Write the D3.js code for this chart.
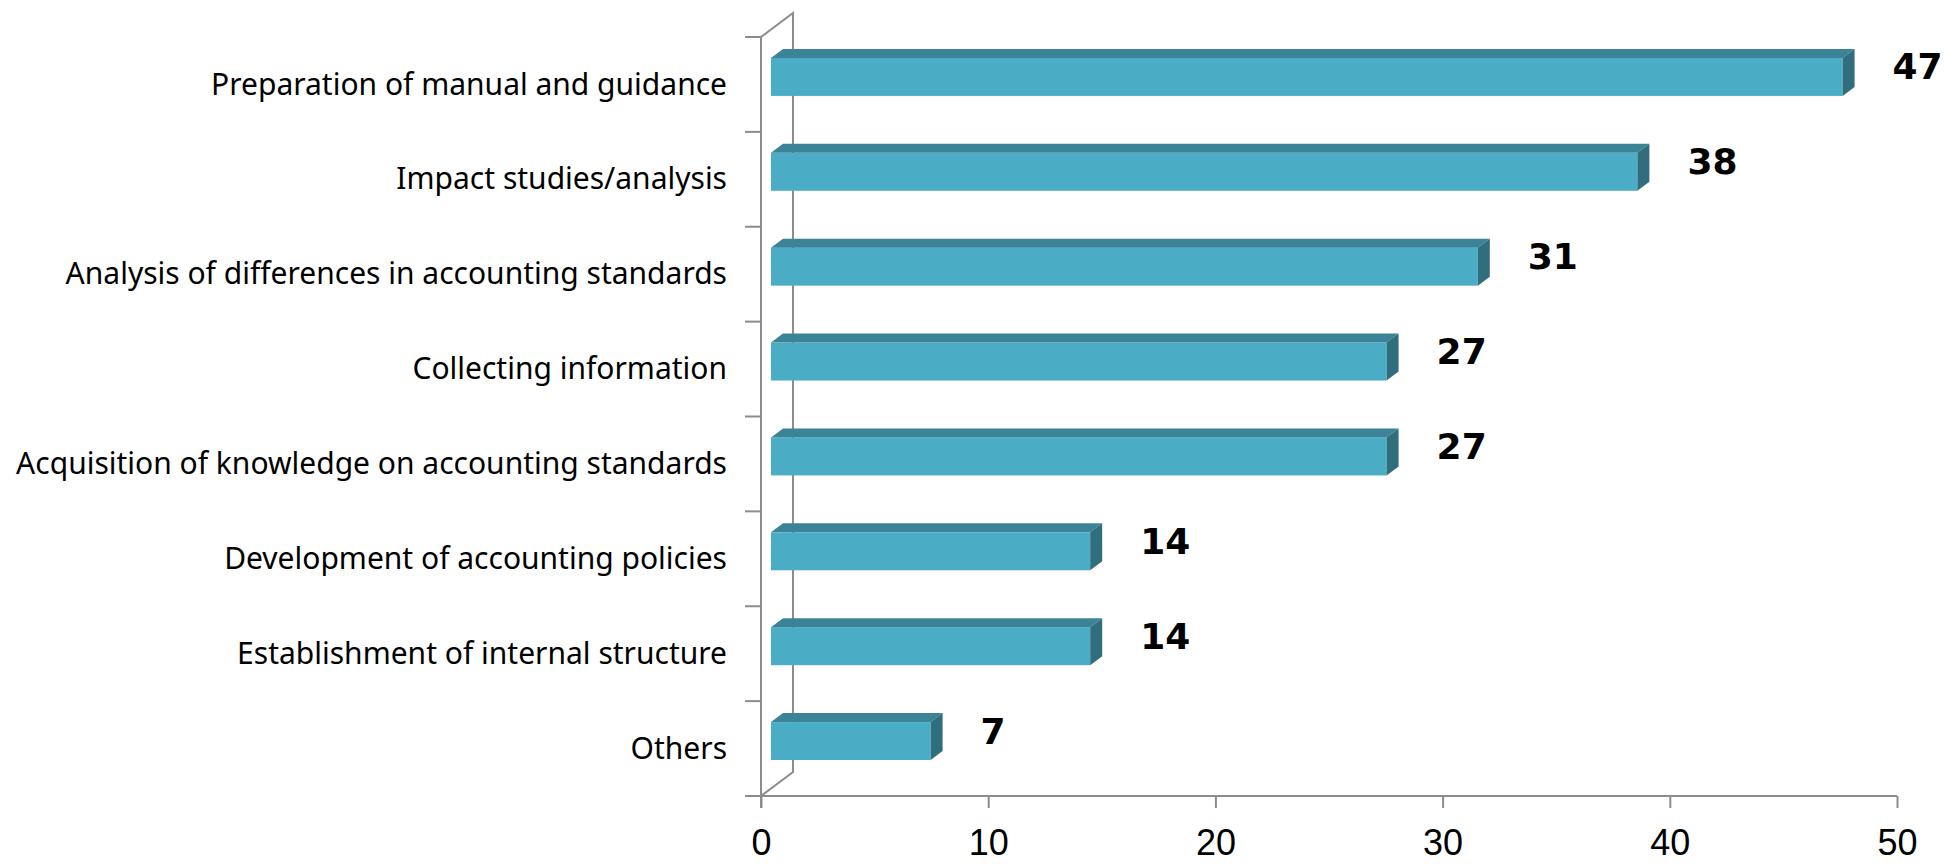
<!DOCTYPE html>
<html>
<head>
<meta charset="utf-8">
<script src="https://cdn.jsdelivr.net/npm/d3@7"></script>
<style>
  html, body { margin: 0; padding: 0; background: #ffffff; }
  svg { display: block; }
  text { font-variant-ligatures: none; }
</style>
</head>
<body>
<svg id="chart" width="1956" height="864"></svg>
<script>
const categories = [
  "Preparation of manual and guidance",
  "Impact studies/analysis",
  "Analysis of differences in accounting standards",
  "Collecting information",
  "Acquisition of knowledge on accounting standards",
  "Development of accounting policies",
  "Establishment of internal structure",
  "Others"
];
const values = [47, 38, 31, 27, 27, 14, 14, 7];
const tickValues = [0, 10, 20, 30, 40, 50];

(function () {
const svg = d3.select("#chart");
const W = 1956, H = 864;
svg.append("rect").attr("width", W).attr("height", H).attr("fill", "#ffffff");

const pLeft = 761, pRight = 1897, pTop = 37, pBottom = 796;
const wall = { dx: 32, dy: -24 };   // depth of the side wall
const shift = { dx: 10, dy: -7.5 }; // bar front-plane shift
const bd = { dx: 12, dy: -9 };      // bar depth

const x = d3.scaleLinear().domain([0, 50]).range([pLeft, pRight]);
const xBar = d3.scaleLinear().domain([0, 50]).range([pLeft + shift.dx, pLeft + shift.dx + (pRight - pLeft) * 1.0035]);
const y = d3.scaleBand().domain(categories).range([pTop, pBottom]).paddingInner(0).paddingOuter(0);

const axisColor = "#8c8c8c";

// back wall (left side)
const wallG = svg.append("g").attr("stroke", axisColor).attr("stroke-width", 2).attr("fill", "none");
wallG.append("path").attr("d", `M${pLeft},${pTop} L${pLeft + wall.dx},${pTop + wall.dy} L${pLeft + wall.dx},${pBottom + wall.dy} L${pLeft},${pBottom}`);

// bars
const barH = y.bandwidth() * 0.4;
const bars = svg.append("g");
categories.forEach((c, i) => {
  const v = values[i];
  const cy = y(c) + y.bandwidth() / 2 + shift.dy;
  const yt = cy - barH / 2, yb = cy + barH / 2;
  const xl = xBar(0), xr = xBar(v);
  bars.append("rect").attr("x", xl).attr("y", yt).attr("width", xr - xl).attr("height", barH)
    .attr("fill", "#4bacc6");
  bars.append("path")
    .attr("d", `M${xl},${yt} L${xl + bd.dx},${yt + bd.dy} L${xr + bd.dx},${yt + bd.dy} L${xr},${yt} Z`)
    .attr("fill", "#3b8397");
  bars.append("path")
    .attr("d", `M${xr},${yt} L${xr + bd.dx},${yt + bd.dy} L${xr + bd.dx},${yb + bd.dy} L${xr},${yb} Z`)
    .attr("fill", "#316e7d");
  // value label
  svg.append("text")
    .attr("x", xr + bd.dx + 38)
    .attr("y", yt + 9)
    .attr("dominant-baseline", "central")
    .attr("font-family", "DejaVu Sans")
    .attr("font-weight", "bold")
    .attr("font-size", 36)
    .attr("fill", "#000")
    .text(d3.format(".0f")(v));
});

// front vertical axis
const yAxisG = svg.append("g").attr("stroke", axisColor).attr("stroke-width", 2);
yAxisG.append("line").attr("x1", pLeft).attr("x2", pLeft).attr("y1", pTop).attr("y2", pBottom + 12);
const boundaries = categories.map(c => y(c)).concat([pBottom]);
boundaries.forEach(b => {
  yAxisG.append("line").attr("x1", pLeft - 16).attr("x2", pLeft).attr("y1", b).attr("y2", b);
});

// horizontal axis
const xAxisG = svg.append("g").attr("transform", `translate(0,${pBottom})`)
  .call(d3.axisBottom(x).tickValues(tickValues).tickSize(12).tickPadding(21).tickFormat(d3.format("d")));
xAxisG.select(".domain").attr("stroke", axisColor).attr("stroke-width", 2)
  .attr("d", `M${pLeft - 10},0H${pRight}`);
xAxisG.selectAll(".tick line").attr("stroke", axisColor).attr("stroke-width", 2);
xAxisG.selectAll(".tick text")
  .attr("font-family", "Liberation Sans")
  .attr("font-size", 36)
  .attr("fill", "#000")
  .attr("dy", "0.71em");

// category labels
svg.append("g").selectAll("text").data(categories).join("text")
  .attr("x", 727)
  .attr("y", d => y(d) + y.bandwidth() / 2 - 1.4)
  .attr("dominant-baseline", "central")
  .attr("text-anchor", "end")
  .attr("font-family", "Noto Sans")
  .attr("font-size", 30)
  .attr("fill", "#000")
  .text(d => d);
})();
</script>
</body>
</html>
